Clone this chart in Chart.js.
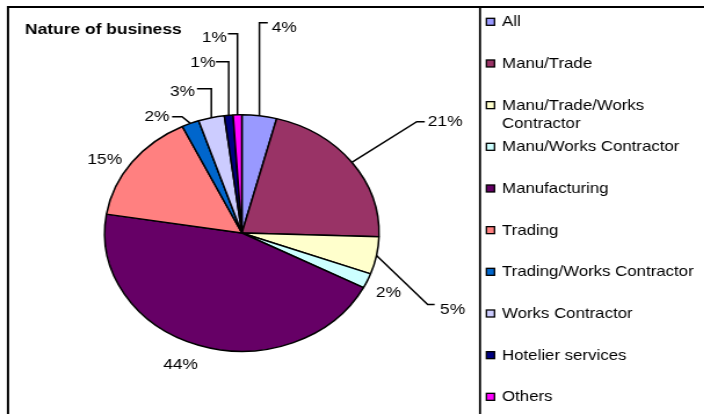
<!DOCTYPE html>
<html>
<head>
<meta charset="utf-8">
<script src="https://cdn.jsdelivr.net/npm/chart.js@4.4.1/dist/chart.umd.min.js"></script>
<style>
  html, body { margin: 0; padding: 0; background: #fff; overflow: hidden; }
  /* the chart is laid out on a narrower canvas and widened, so the pie reads as an oval */
  #wrap { width: 607px; height: 414px; transform: scaleX(1.16); transform-origin: 0 0; }
  canvas { display: block; }
</style>
</head>
<body>
<div id="wrap"><canvas id="pie" width="607" height="414"></canvas></div>
<script>
// Share of registrations by nature of business (%)
const categories = [
  'All', 'Manu/Trade', 'Manu/Trade/Works Contractor', 'Manu/Works Contractor',
  'Manufacturing', 'Trading', 'Trading/Works Contractor', 'Works Contractor',
  'Hotelier services', 'Others'
];
const shares = [4, 21, 5, 2, 44, 15, 2, 3, 1, 1];
const chartTitle = 'Nature of business';

const sliceColors = [
  '#9999FF', '#993366', '#FFFFCC', '#CCFFFF', '#660066',
  '#FF8080', '#0066CC', '#CCCCFF', '#000080', '#FF00FF'
];

// Where each percentage label sits, relative to the middle of its slice's rim,
// and the elbowed leader line (if any) that ties it back to the slice.
const labelPlacement = [
  { text: [21.5, -88],   lead: [[0, 0], [0, -93], [7.2, -93]] },
  { text: [80.5, -40.6], lead: [[0, 0], [56, -40.6], [62.9, -40.6]] },
  { text: [65.6, 53.8],  lead: [[0, 0], [44.1, 48.8], [50.1, 48.8]] },
  { text: [18.3, 11.5] },
  { text: [-15.6, 20] },
  { text: [-23.5, -2.7] },
  { text: [-28.8, -6.7], lead: [[0, 0], [-7.2, -6.7], [-15.8, -6.7]] },
  { text: [-24.9, -26],  lead: [[0, 0], [0, -29], [-12.4, -29]] },
  { text: [-22.2, -52.5], lead: [[0, 0], [0, -53.5], [-11, -53.5]] },
  { text: [-19.9, -77.1], lead: [[0, 0], [0, -81.1], [-8.3, -81.1]] }
];

const FONT = '"Liberation Sans", Arial, Helvetica, sans-serif';
Chart.defaults.font.family = FONT;

// Frame, title and the legend column on the right
const framePlugin = {
  id: 'frame',
  afterDraw(chart) {
    const ctx = chart.ctx;
    const W = chart.width, H = chart.height;
    const divX = 413.8;
    ctx.save();
    ctx.strokeStyle = '#000';
    ctx.lineWidth = 2;
    ctx.beginPath();
    ctx.moveTo(6.9, H); ctx.lineTo(6.9, 7); ctx.lineTo(W, 7);
    ctx.stroke();
    ctx.lineWidth = 1.8;
    ctx.beginPath();
    ctx.moveTo(divX, 7); ctx.lineTo(divX, H);
    ctx.stroke();

    // title
    ctx.fillStyle = '#000';
    ctx.font = 'bold 15px ' + FONT;
    ctx.textAlign = 'left';
    ctx.textBaseline = 'middle';
    ctx.fillText(chartTitle, 21.6, 30);

    // legend
    ctx.font = '14.5px ' + FONT;
    const textX = 432.8, boxX = 419.3, box = 7;
    const firstY = 22.3, step = 41.67, lineH = 18;
    const maxW = W - textX - 2;
    categories.forEach((name, i) => {
      const y = firstY + i * step;
      ctx.fillStyle = sliceColors[i];
      ctx.fillRect(boxX, y - box / 2 - 0.5, box, box);
      ctx.lineWidth = 1.3;
      ctx.strokeStyle = '#000';
      ctx.strokeRect(boxX, y - box / 2 - 0.5, box, box);
      // simple word wrap for long names
      const words = name.split(' ');
      const lines = [];
      let cur = '';
      words.forEach(w => {
        const test = cur ? cur + ' ' + w : w;
        if (cur && ctx.measureText(test).width > maxW) { lines.push(cur); cur = w; }
        else cur = test;
      });
      lines.push(cur);
      ctx.fillStyle = '#000';
      lines.forEach((ln, k) => ctx.fillText(ln, textX, y + k * lineH));
    });
    ctx.restore();
  }
};

// Percentage labels with leader lines, placed from each arc's own geometry
const sliceLabelPlugin = {
  id: 'sliceLabels',
  afterDatasetsDraw(chart) {
    const ctx = chart.ctx;
    const meta = chart.getDatasetMeta(0);
    const values = chart.data.datasets[0].data;
    ctx.save();
    ctx.font = '15px ' + FONT;
    ctx.fillStyle = '#000';
    ctx.strokeStyle = '#000';
    ctx.lineWidth = 1.5;
    ctx.textAlign = 'center';
    ctx.textBaseline = 'middle';
    meta.data.forEach((arc, i) => {
      const p = arc.getProps(['x', 'y', 'startAngle', 'endAngle', 'outerRadius'], true);
      const mid = (p.startAngle + p.endAngle) / 2;
      const ex = p.x + Math.cos(mid) * p.outerRadius;
      const ey = p.y + Math.sin(mid) * p.outerRadius;
      const place = labelPlacement[i];
      if (place.lead) {
        ctx.beginPath();
        place.lead.forEach(([dx, dy], k) => {
          if (k === 0) ctx.moveTo(ex + dx, ey + dy);
          else ctx.lineTo(ex + dx, ey + dy);
        });
        ctx.stroke();
      }
      ctx.fillText(values[i] + '%', ex + place.text[0], ey + place.text[1]);
    });
    ctx.restore();
  }
};

new Chart(document.getElementById('pie'), {
  type: 'pie',
  data: {
    labels: categories,
    datasets: [{
      data: shares,
      backgroundColor: sliceColors,
      borderColor: '#000',
      borderWidth: 1.5
    }]
  },
  options: {
    responsive: false,
    animation: false,
    events: [],
    layout: { padding: { top: 114, bottom: 62, left: 89.5, right: 279.5 } },
    plugins: {
      legend: { display: false },
      title: { display: false },
      tooltip: { enabled: false }
    }
  },
  plugins: [framePlugin, sliceLabelPlugin]
});
</script>
</body>
</html>
